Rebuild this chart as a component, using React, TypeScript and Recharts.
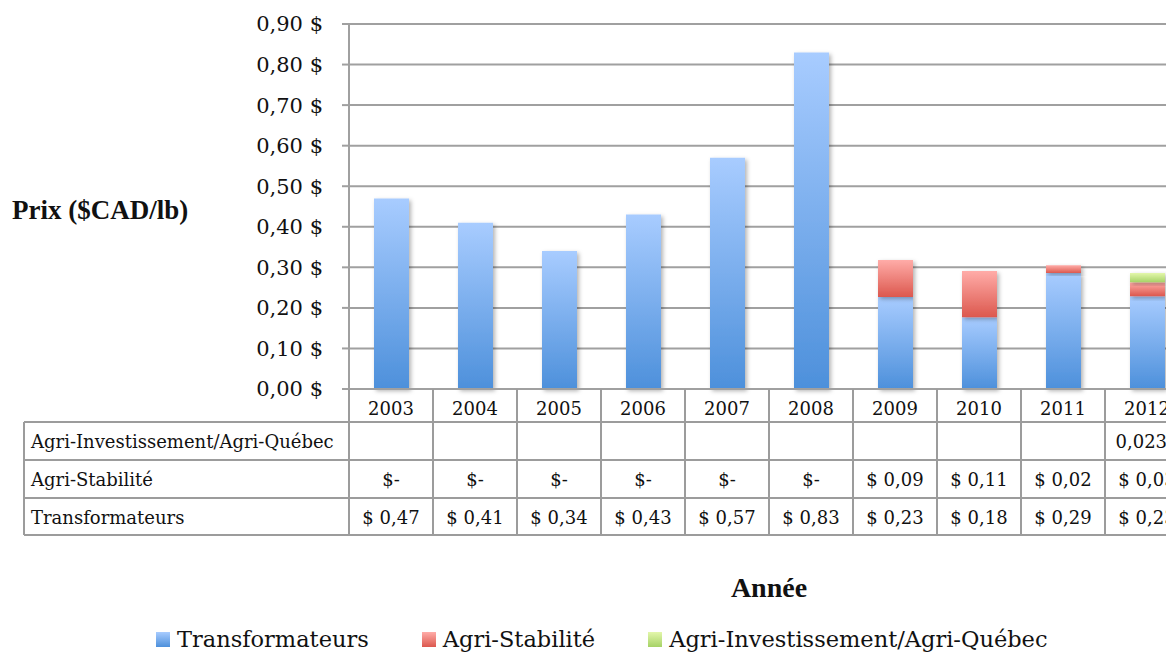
import React from 'react';
import { BarChart, Bar, XAxis, YAxis, CartesianGrid, Label } from 'recharts';

// données
const YEARS = ['2003', '2004', '2005', '2006', '2007', '2008', '2009', '2010', '2011', '2012'];
const TRANSFORMATEURS = [0.47, 0.41, 0.34, 0.43, 0.57, 0.83, 0.227, 0.177, 0.286, 0.229];
const AGRI_STABILITE = [0, 0, 0, 0, 0, 0, 0.091, 0.114, 0.019, 0.034];
const AGRI_INVEST = [null, null, null, null, null, null, null, null, null, 0.023];
const Y_TICKS = [0, 0.1, 0.2, 0.3, 0.4, 0.5, 0.6, 0.7, 0.8, 0.9];

const SERIES = [
  { key: 'trans', name: 'Transformateurs', grad: 'gBlue', top: '#a8ccff', bottom: '#4d90db' },
  { key: 'stab', name: 'Agri-Stabilité', grad: 'gRed', top: '#ffaca8', bottom: '#dc584e' },
  { key: 'invest', name: 'Agri-Investissement/Agri-Québec', grad: 'gGreen', top: '#e3f7ab', bottom: '#a6d266' },
];

const data = YEARS.map((year, i) => ({
  year,
  trans: TRANSFORMATEURS[i],
  stab: AGRI_STABILITE[i],
  invest: AGRI_INVEST[i],
}));

const SERIF = '"DejaVu Serif", serif';
const BOLD_SERIF = '"Liberation Serif", serif';
const GRID = '#a0a0a0';
const TABLE_LINE = '#9c9c9c';

// géométrie du graphique (coordonnées svg) — le tableau déborde à droite comme dans l'original
const W = 1200;
const H = 646;
const PLOT_LEFT = 341;
const PLOT_TOP = 16;
const PLOT_BOTTOM = 381;
const PLOT_RIGHT = 1181;
const BAND = (PLOT_RIGHT - PLOT_LEFT) / YEARS.length;
const ROWS_Y = [33, 71, 109, 146];

const fmtMoney = (v: number) => `${v.toFixed(2).replace('.', ',')} $`;
const fmtCell = (v: number) => (v === 0 ? '$-' : `$ ${v.toFixed(2).replace('.', ',')}`);

// lignes du tableau de données, dans l'ordre du haut vers le bas
const TABLE_ROWS = [
  { label: SERIES[2].name, values: AGRI_INVEST.map((v) => (v == null ? '' : `${v.toFixed(3).replace('.', ',')}$`)) },
  { label: SERIES[1].name, values: AGRI_STABILITE.map(fmtCell) },
  { label: SERIES[0].name, values: TRANSFORMATEURS.map(fmtCell) },
];

const TableTick = (props: any) => {
  const { x, y, payload } = props;
  const idx = payload.index;
  const l = x - BAND / 2;
  const r = x + BAND / 2;
  const bottom = y + ROWS_Y[3];
  return (
    <g fontFamily={SERIF} fontSize={18} fill="#111">
      <line x1={l} x2={l} y1={y} y2={bottom} stroke={TABLE_LINE} strokeWidth={2} />
      <line x1={r} x2={r} y1={y} y2={bottom} stroke={TABLE_LINE} strokeWidth={2} />
      {ROWS_Y.map((dy) => (
        <line key={dy} x1={l} x2={r} y1={y + dy} y2={y + dy} stroke={TABLE_LINE} strokeWidth={2} />
      ))}
      <text x={x} y={y + 26} textAnchor="middle">{payload.value}</text>
      {TABLE_ROWS.map((row, ri) => (
        <text key={ri} x={x} y={y + ROWS_Y[ri] + 26} textAnchor="middle">
          {row.values[idx]}
        </text>
      ))}
      {idx === 0 && (
        <g>
          <line x1={16} x2={16} y1={y + ROWS_Y[0]} y2={bottom} stroke={TABLE_LINE} strokeWidth={2} />
          {ROWS_Y.map((dy) => (
            <line key={dy} x1={16} x2={l} y1={y + dy} y2={y + dy} stroke={TABLE_LINE} strokeWidth={2} />
          ))}
          {TABLE_ROWS.map((row, ri) => (
            <text key={ri} x={23} y={y + ROWS_Y[ri] + 26}>{row.label}</text>
          ))}
        </g>
      )}
    </g>
  );
};

export default function App() {
  return (
    <div style={{ position: 'relative', width: W, height: H }}>
      <style>{'html, body { overflow: hidden; }'}</style>
      <BarChart
        width={W}
        height={H}
        data={data}
        margin={{ top: PLOT_TOP, right: W - PLOT_RIGHT, bottom: 0, left: PLOT_LEFT - 80 }}
        barSize={35}
      >
        <defs>
          {SERIES.map((s) => (
            <linearGradient key={s.grad} id={s.grad} x1="0" y1="0" x2="0" y2="1">
              <stop offset="0%" stopColor={s.top} />
              <stop offset="100%" stopColor={s.bottom} />
            </linearGradient>
          ))}
          <filter id="shadow" x="-20%" y="-20%" width="150%" height="150%">
            <feDropShadow dx="2" dy="2" stdDeviation="2" floodColor="#000" floodOpacity="0.3" />
          </filter>
        </defs>
        <CartesianGrid vertical={false} stroke={GRID} strokeWidth={2} />
        <YAxis
          width={80}
          domain={[0, 0.9]}
          ticks={Y_TICKS}
          tickFormatter={fmtMoney}
          tickSize={7}
          tickMargin={19}
          axisLine={{ stroke: GRID, strokeWidth: 2 }}
          tickLine={{ stroke: GRID, strokeWidth: 2 }}
          tick={{ fontFamily: SERIF, fontSize: 21, fill: '#111' }}
        >
          <Label
            content={() => (
              <text x={4} y={211} fontFamily={BOLD_SERIF} fontWeight="bold" fontSize={27} fill="#111">
                Prix ($CAD/lb)
              </text>
            )}
          />
        </YAxis>
        <XAxis
          dataKey="year"
          height={H - PLOT_BOTTOM}
          interval={0}
          tickSize={0}
          tickMargin={0}
          tickLine={false}
          axisLine={{ stroke: GRID, strokeWidth: 2 }}
          tick={<TableTick />}
        >
          <Label
            content={() => (
              <text x={(PLOT_LEFT + PLOT_RIGHT) / 2} y={589} textAnchor="middle" fontFamily={BOLD_SERIF} fontWeight="bold" fontSize={28} fill="#111">
                Année
              </text>
            )}
          />
        </XAxis>
        {SERIES.map((s) => (
          <Bar
            key={s.key}
            dataKey={s.key}
            name={s.name}
            stackId="a"
            fill={`url(#${s.grad})`}
            filter="url(#shadow)"
            isAnimationActive={false}
          />
        ))}
      </BarChart>
      <div
        style={{
          position: 'absolute',
          left: 148,
          top: 618,
          display: 'flex',
          alignItems: 'center',
          fontFamily: SERIF,
          fontSize: 22.5,
          color: '#111',
          whiteSpace: 'nowrap',
        }}
      >
        {SERIES.map((s) => (
          <div key={s.key} style={{ display: 'flex', alignItems: 'center', marginRight: 53 }}>
            <span
              style={{
                display: 'inline-block',
                width: 14,
                height: 15,
                marginRight: 7,
                background: `linear-gradient(${s.top}, ${s.bottom})`,
              }}
            />
            <span>{s.name}</span>
          </div>
        ))}
      </div>
    </div>
  );
}
